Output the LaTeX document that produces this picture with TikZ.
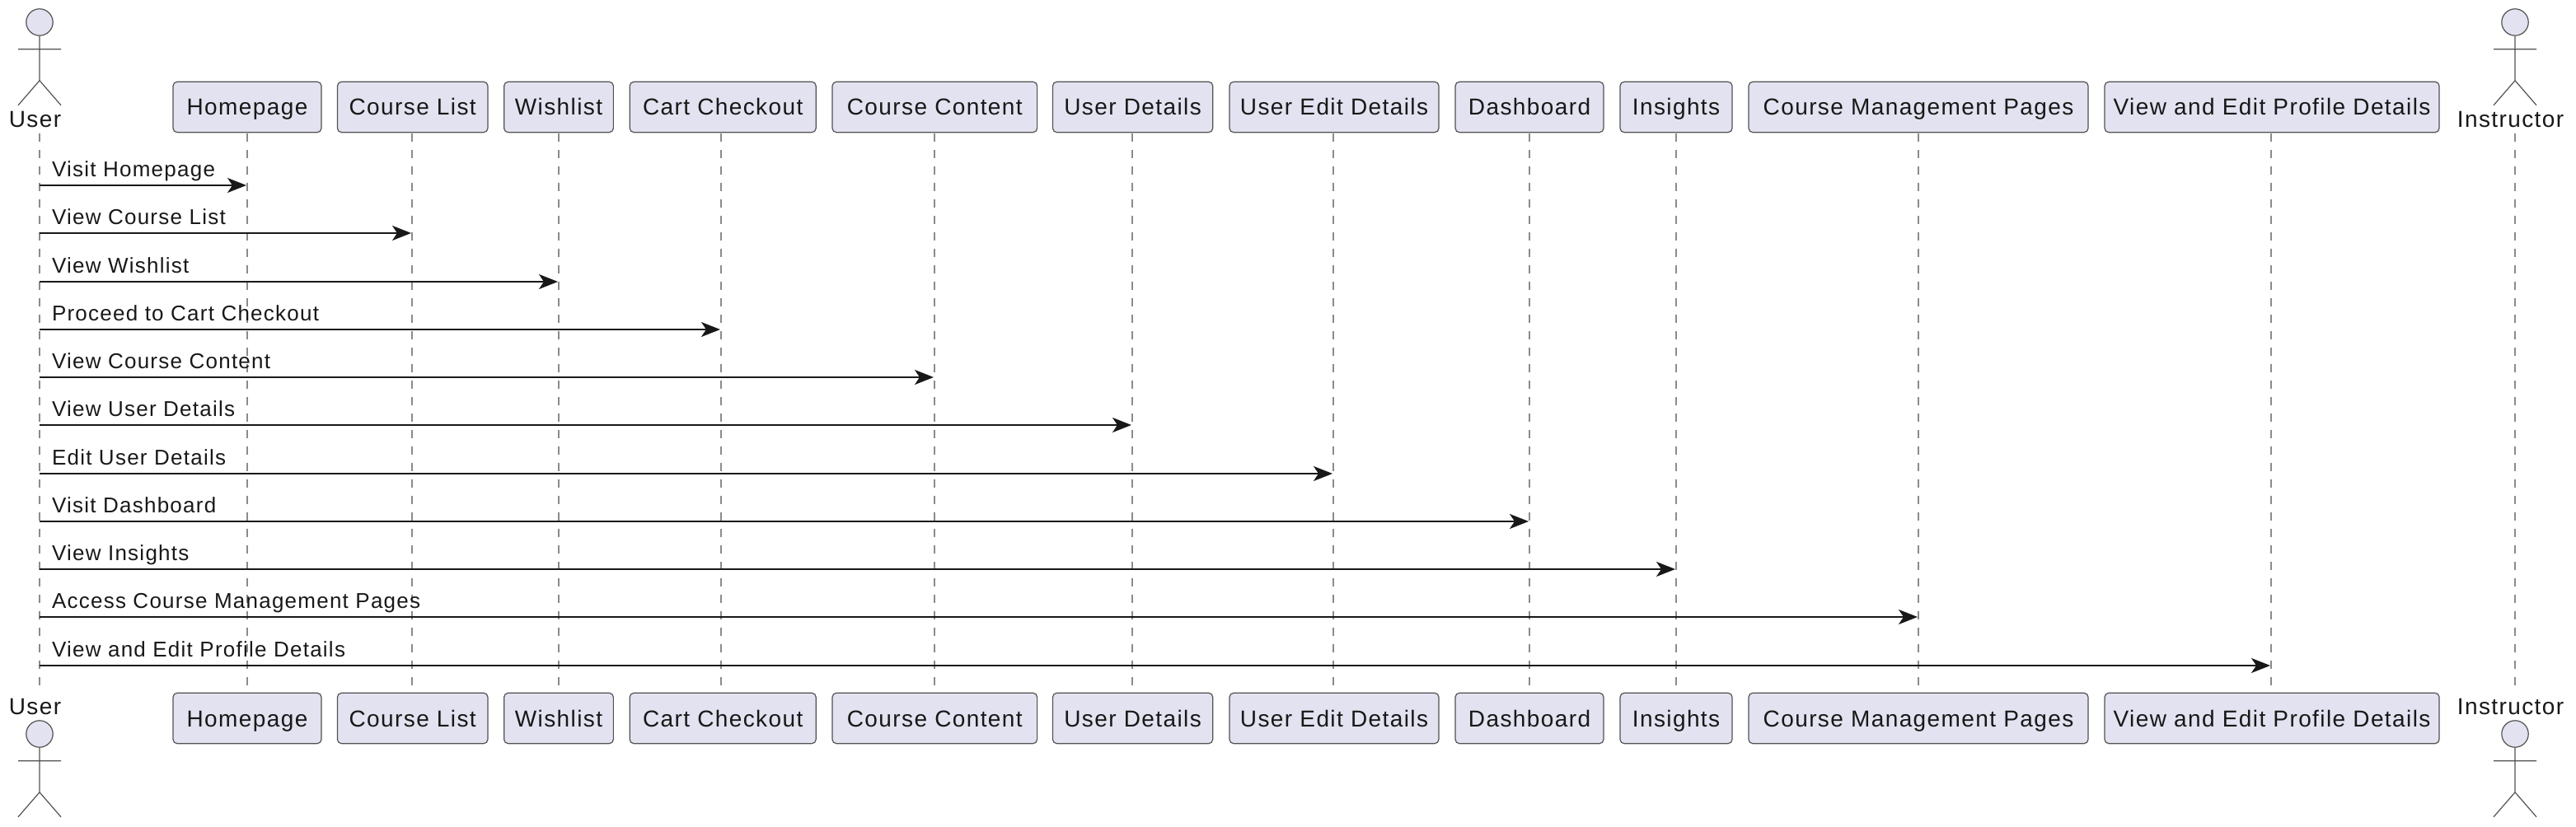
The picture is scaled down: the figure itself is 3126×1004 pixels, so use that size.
\documentclass[tikz,border=0pt]{standalone}
\usepackage{fontspec}
\usepackage{xcolor}
\usetikzlibrary{arrows.meta}
\setmainfont{Liberation Sans}
\newfontface\partfont{Liberation Sans}[LetterSpace=5]
\newfontface\msgfont{Liberation Sans}[LetterSpace=4.8]
\definecolor{partfill}{HTML}{E2E2F0}
\definecolor{partline}{HTML}{181818}
\tikzset{
  partbox/.style={draw=partline!75, fill=partfill, line width=0.6pt, rounded corners=2.5pt,
    minimum height=30.7pt, inner sep=0pt, text height=11pt, text depth=1pt,
    font=\partfont\fontsize{14}{16}\selectfont, text=partline},
  actorname/.style={inner sep=0pt, anchor=base, font=\partfont\fontsize{14}{16}\selectfont, text=partline},
  actorline/.style={draw=partline!75, line width=0.6pt},
  actorhead/.style={circle, draw=partline!75, fill=partfill, line width=0.6pt, minimum size=16.2pt, inner sep=0pt},
  lifeline/.style={draw=partline!50, line width=1pt, dash pattern=on 5pt off 5pt},
  msg/.style={draw=partline, line width=1pt, shorten >=0.5pt, -{Stealth[length=11.5pt, width=9pt, inset=3pt]}},
  msglabel/.style={pos=0, anchor=base west, xshift=7pt, yshift=5pt, inner sep=0pt,
    font=\msgfont\fontsize{13}{15}\selectfont, text=partline}
}

\begin{document}
\begin{tikzpicture}[x=0.5pt, y=-0.5pt]
  \useasboundingbox (0, 0) rectangle (3126, 1004);

%%%%%%%%%%%% Participants
  \foreach \n/\x/\c/\w/\lbl in {home/300/300/180/Homepage, clist/500/500.7/182.5/Course List,
    wish/678/678/132.7/Wishlist, cart/875/877.2/226/Cart Checkout,
    content/1134/1134.3/248.6/Course Content, udet/1374/1374.6/194.2/User Details,
    uedit/1618/1619/254/User Edit Details, dash/1856/1856/180/Dashboard,
    ins/2034/2034/136/Insights, cmp/2328/2328/412/Course Management Pages,
    prof/2756/2757/406/View and Edit Profile Details} {
    \node[partbox, minimum width=\w*0.5pt] (\n top) at (\c, 130) {\lbl};
    \node[partbox, minimum width=\w*0.5pt] (\n bot) at (\c, 872) {\lbl};
    \coordinate (\n life) at (\x, 162);
    \draw[lifeline] (\n life) -- (\n life |- \n bot.north);
  }

%%%%%%%%%%%% Actors
  \foreach \n/\x/\tx/\lbl in {user/48/42.5/User, instr/3052/3046.5/Instructor} {
    \node[actorname] (\n name top) at (\tx, 155) {\lbl};
    \node[actorname] (\n name bot) at (\tx, 867) {\lbl};
    \coordinate (\n top) at (\x, 162);
    \coordinate (\n bot) at (\x, 841);
    \draw[lifeline] (\n top) -- (\n bot);
    \foreach \s/\y in {top/27, bot/891} {
      \node[actorhead] (\n head \s) at (\x, \y) {};
      \draw[actorline] (\n head \s.south) -- +(0, 54)
        -- +(-26, 84) +(0, 54) -- +(26, 84)
        (\n head \s.south) ++(-26, 16) -- +(52, 0);
    }
  }

%%%%%%%%%%%% Messages
  \foreach \n/\y/\lbl in {home/225/Visit Homepage, clist/283/View Course List,
    wish/342/View Wishlist, cart/400/Proceed to Cart Checkout,
    content/458/View Course Content, udet/516/View User Details,
    uedit/575/Edit User Details, dash/633/Visit Dashboard,
    ins/691/View Insights, cmp/749/Access Course Management Pages,
    prof/808/View and Edit Profile Details} {
    \coordinate (from \n) at (48, \y);
    \draw[msg] (from \n) -- node[msglabel] (msg \n) {\lbl} (\n life |- from \n);
  }
\end{tikzpicture}
\end{document}
